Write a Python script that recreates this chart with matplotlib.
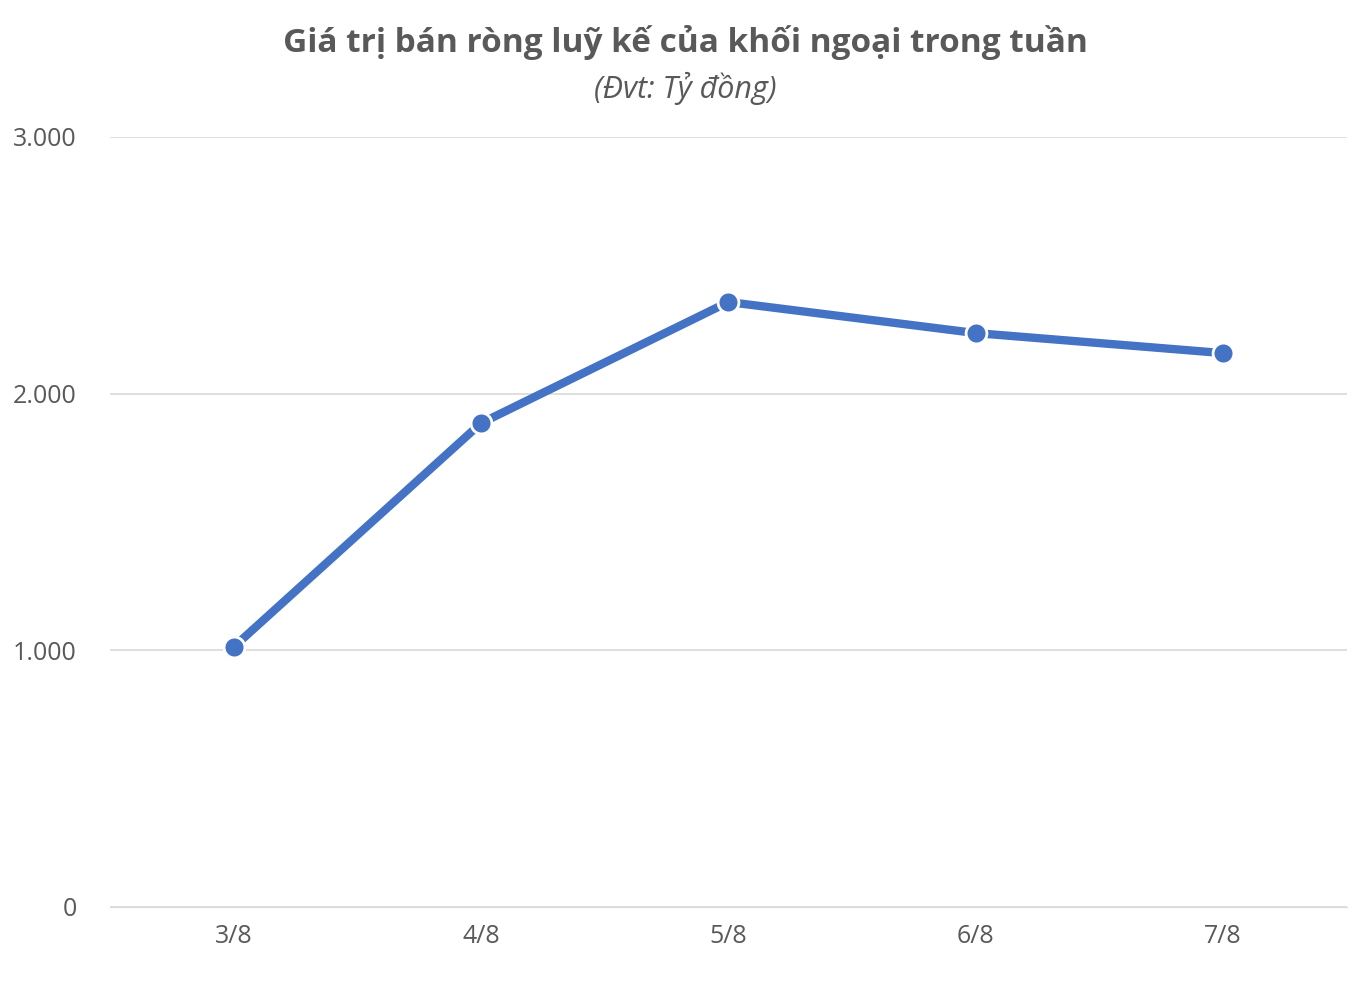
import matplotlib
matplotlib.use("Agg")
import matplotlib.pyplot as plt
from matplotlib.ticker import FuncFormatter

categories = ["3/8", "4/8", "5/8", "6/8", "7/8"]
values = [1013, 1885, 2357, 2236, 2158]
yticks = [0, 1000, 2000, 3000]

plt.rcParams['font.family'] = ['Open Sans', 'DejaVu Sans']
fig = plt.figure(figsize=(13.7, 9.82), dpi=100)
ax = fig.add_axes([0.0803, 0.0764, 0.9027, 0.7841])
x = list(range(len(categories)))
ax.plot(x, values, color='#4472C4', lw=6, marker='o', markersize=15,
        markerfacecolor='#4472C4', markeredgecolor='white', markeredgewidth=2, zorder=3)
ax.set_xlim(-0.5, len(categories) - 0.5)
ax.set_ylim(0, 3000)
ax.set_yticks(yticks)
ax.yaxis.set_major_formatter(FuncFormatter(lambda v, p: f"{int(v):,}".replace(",", ".")))
ax.set_xticks(x)
ax.set_xticklabels(categories)
ax.grid(axis='y', color='#D9D9D9', lw=1.2)
ax.set_axisbelow(True)
for s in ['top', 'right', 'left']:
    ax.spines[s].set_visible(False)
ax.spines['bottom'].set_color('#D9D9D9')
ax.tick_params(axis='both', length=0, labelsize=18, labelcolor='#595959')
ax.tick_params(axis='y', pad=24)
ax.tick_params(axis='x', pad=12)
fig.text(0.5, 0.957, "Giá trị bán ròng luỹ kế của khối ngoại trong tuần", ha='center', va='center',
         fontsize=24, fontweight='bold', color='#595959')
fig.text(0.5, 0.91, "(Đvt: Tỷ đồng)", ha='center', va='center', fontsize=22,
         fontstyle='italic', color='#595959')
fig.savefig("out.png", dpi=100, facecolor='white')
